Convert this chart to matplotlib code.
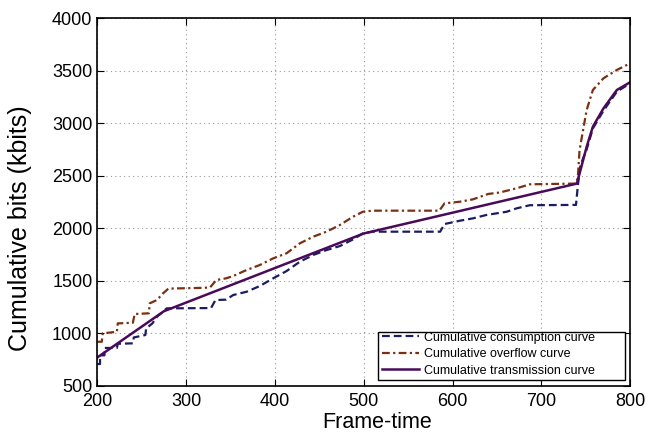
import numpy as np
import matplotlib
matplotlib.use("Agg")
import matplotlib.pyplot as plt
from matplotlib.patches import Rectangle

plt.rcParams["font.family"] = ["Liberation Sans", "DejaVu Sans"]

# transmission curve (piecewise linear, then steep rise at the end)
trans_x = [200, 275, 500, 740, 751, 758, 770, 785, 800]
trans_y = [770, 1210, 1950, 2425, 2776, 2967, 3142, 3316, 3390]

# consumption curve (staircase-like)
cons_x = [200, 203, 203, 208, 208, 222, 223, 240, 241, 254, 255, 262, 267, 274,
          278, 328, 333, 345, 353, 368, 383, 398, 413, 428, 443, 458, 473, 488,
          499, 510, 586, 591, 608, 623, 638, 661, 672, 687, 739, 741, 744, 751,
          758, 770, 785, 800]
cons_y = [707, 707, 790, 790, 860, 860, 900, 904, 960, 983, 1047, 1094, 1157, 1205,
          1237, 1240, 1316, 1320, 1364, 1395, 1450, 1523, 1592, 1681, 1745, 1792,
          1830, 1894, 1951, 1967, 1967, 2040, 2071, 2094, 2126, 2157, 2189, 2219,
          2222, 2400, 2600, 2750, 2950, 3120, 3300, 3380]

# overflow curve
over_x = [200, 205, 206, 222, 223, 240, 242, 258, 259, 267, 274, 280, 321, 327,
          334, 345, 353, 368, 383, 398, 413, 428, 443, 458, 473, 488, 499, 510,
          585, 591, 608, 623, 640, 653, 672, 687, 739, 741, 743, 751, 758, 770,
          785, 800]
over_y = [919, 919, 999, 1014, 1094, 1100, 1183, 1190, 1285, 1316, 1380, 1425,
          1433, 1437, 1507, 1523, 1545, 1602, 1650, 1713, 1761, 1856, 1919, 1967,
          2030, 2110, 2157, 2167, 2167, 2237, 2252, 2275, 2326, 2340, 2380, 2418,
          2425, 2480, 2745, 3126, 3316, 3428, 3507, 3570]

fig = plt.figure(figsize=(6.49, 4.32), dpi=100)
ax = fig.add_axes([0.150, 0.107, 0.821, 0.851])

ax.plot(cons_x, cons_y, "--", color="#1c1c64", lw=1.6, dashes=(3.5, 1.8),
        label="Cumulative consumption curve")
ax.plot(over_x, over_y, "-.", color="#7a3012", lw=1.6, dashes=(3.5, 1.5, 1, 1.5),
        label="Cumulative overflow curve")
ax.plot(trans_x, trans_y, "-", color="#4a0a5a", lw=1.8,
        label="Cumulative transmission curve")

ax.set_xlim(200, 800)
ax.set_ylim(500, 4000)
ax.set_xticks(np.arange(200, 801, 100))
ax.set_yticks(np.arange(500, 4001, 500))
ax.grid(True, linestyle=(0, (1, 3)), color="#999999", lw=0.8)
ax.tick_params(direction="in", top=True, right=True, length=5, labelsize=13)
ax.tick_params(axis="x", pad=5)
for s in ax.spines.values():
    s.set_linewidth(1.2)

ax.set_xlabel("Frame-time", fontsize=15.5)
ax.set_ylabel("Cumulative bits (kbits)", fontsize=18)
ax.xaxis.set_label_coords(0.526, -0.07)
ax.yaxis.set_label_coords(-0.123, 0.43)

# matlab-style legend box with extra room on the right
ax.add_patch(Rectangle((0.527, 0.0147), 0.4636, 0.1306, transform=ax.transAxes,
                       facecolor="white", edgecolor="black", lw=1.0, zorder=4))
leg = ax.legend(loc="lower left", bbox_to_anchor=(0.527, 0.0147), fontsize=9,
                frameon=False, handlelength=3, handletextpad=0.35,
                labelspacing=0.35, borderaxespad=0, borderpad=0.3)
leg.set_zorder(5)

fig.savefig("out.png", dpi=100)
